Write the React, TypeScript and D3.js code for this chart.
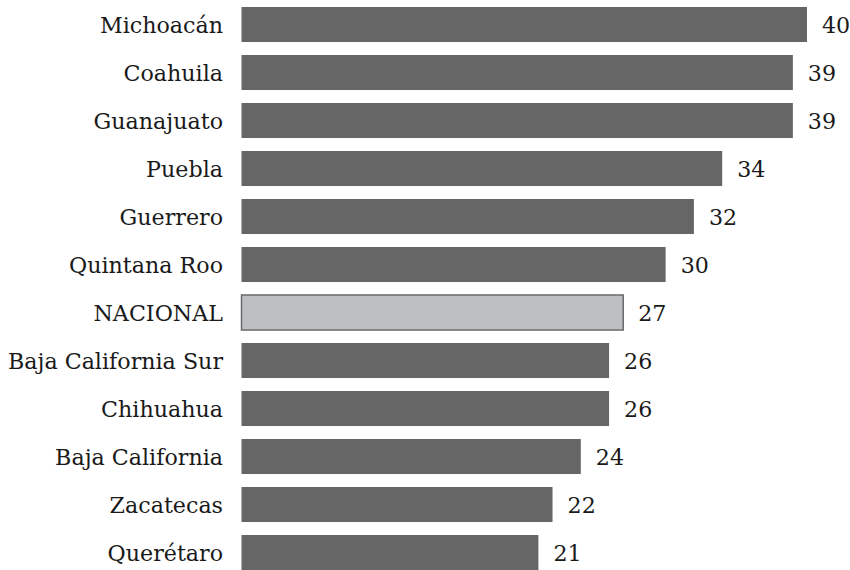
import React from "react";
import * as d3 from "d3";

const categories = [
  "Michoacán",
  "Coahuila",
  "Guanajuato",
  "Puebla",
  "Guerrero",
  "Quintana Roo",
  "NACIONAL",
  "Baja California Sur",
  "Chihuahua",
  "Baja California",
  "Zacatecas",
  "Querétaro",
];
const values = [40, 39, 39, 34, 32, 30, 27, 26, 26, 24, 22, 21];
const highlight = "NACIONAL";

export default function App() {
  const width = 850;
  const height = 570;
  const x = d3.scaleLinear().domain([0, 40]).range([241.5, 807]);
  const y = d3
    .scaleBand<string>()
    .domain(categories)
    .range([0.5, 576.5])
    .paddingInner(0.27)
    .paddingOuter(0.135);
  const font = "'DejaVu Serif', serif";
  return (
    <svg
      width={width}
      height={height}
      style={{ position: "absolute", left: 0, top: 0, background: "#fff" }}
    >
      {categories.map((c, i) => {
        const yy = y(c)!;
        const bh = y.bandwidth();
        const isH = c === highlight;
        const cy = yy + bh / 2;
        return (
          <g key={c}>
            <rect
              x={x(0)}
              y={yy}
              width={x(values[i]) - x(0)}
              height={bh}
              fill={isH ? "#bebfc1" : "#666666"}
              stroke={isH ? "#6a6a6a" : "none"}
              strokeWidth={isH ? 1.5 : 0}
            />
            <text
              x={223}
              y={cy}
              textAnchor="end"
              dominantBaseline="central"
              fontFamily={font}
              fontSize={22.2}
              fill="#1a1a1a"
            >
              {c}
            </text>
            <text
              x={x(values[i]) + 15}
              y={cy}
              dominantBaseline="central"
              fontFamily={font}
              fontSize={22.2}
              fill="#1a1a1a"
            >
              {values[i]}
            </text>
          </g>
        );
      })}
    </svg>
  );
}
